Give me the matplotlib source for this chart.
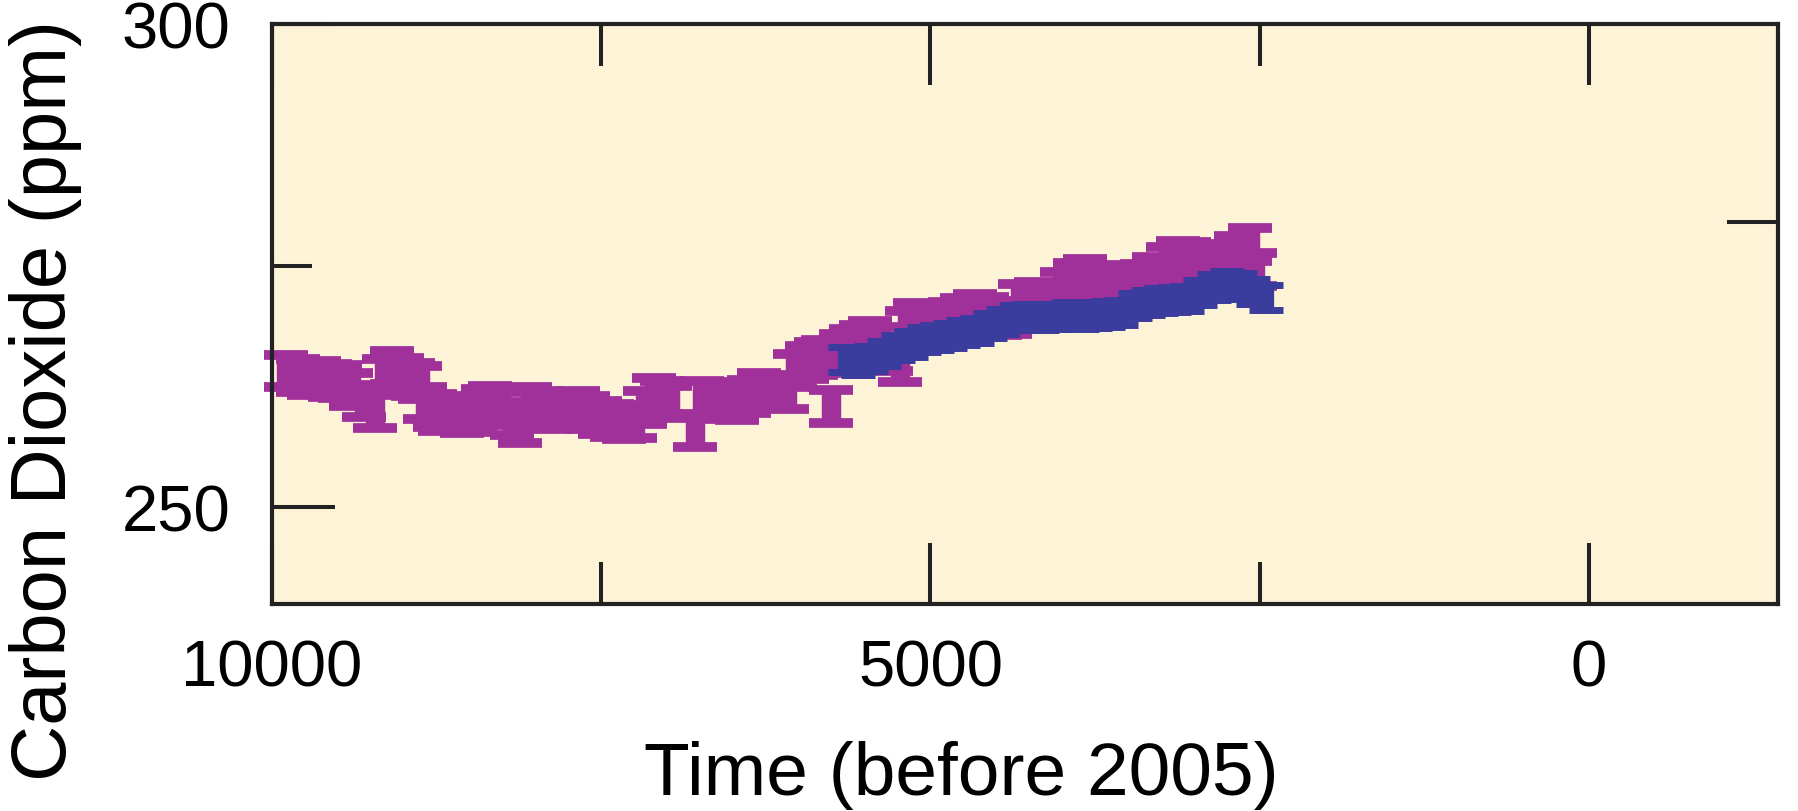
import numpy as np
import matplotlib
matplotlib.use("Agg")
import matplotlib.pyplot as plt

plt.rcParams['font.family'] = ['Liberation Sans', 'DejaVu Sans']

# ice core CO2, purple series (years before 2005, ppm)
purple_years = [9890, 9800, 9720, 9640, 9560, 9480, 9400, 9300, 9218, 9150,
                9089, 9010, 8930, 8876, 8838, 8760, 8724, 8640, 8560, 8459,
                8400, 8345, 8260, 8180, 8117, 8041, 7960, 7880, 7820, 7753,
                7680, 7600, 7510, 7420, 7330, 7244, 7170, 7100, 7040, 6980,
                6788, 6735, 6640, 6560, 6469, 6380, 6300, 6200, 6090, 6029,
                5940, 5870, 5816, 5755, 5680, 5600, 5530, 5460, 5380, 5300,
                5231, 5180, 5118, 5020, 4928, 4850, 4760, 4662, 4570, 4472,
                4400, 4320, 4200, 4093, 4000, 3900, 3827, 3713, 3620, 3520,
                3394, 3300, 3200, 3121, 3040, 2950, 2855, 2760, 2680, 2574,
                2536]
purple_ppm = [264.1, 263.6, 263.3, 263.4, 263.1, 263.0, 262.2, 261.0, 259.9, 263.6,
              264.5, 263.8, 263.2, 262.9, 260.8, 260.0, 259.6, 259.8, 259.4, 259.5,
              260.5, 260.9, 260.2, 259.2, 258.4, 260.7, 260.3, 259.8, 260.0, 260.2,
              260.3, 259.8, 259.3, 259.0, 258.8, 258.9, 260.3, 261.7, 261.4, 260.9,
              257.9, 261.4, 261.3, 260.8, 260.7, 261.5, 262.2, 262.0, 261.9, 264.2,
              265.0, 265.4, 265.6, 260.4, 266.2, 266.8, 267.2, 267.6, 267.0, 265.8,
              264.7, 268.6, 269.4, 269.2, 268.8, 269.5, 270.0, 270.4, 270.1, 269.5,
              269.6, 271.4, 271.6, 271.4, 272.6, 273.6, 274.0, 273.0, 273.2, 273.4,
              273.5, 274.2, 275.2, 275.9, 275.8, 275.3, 275.1, 275.5, 276.4, 277.2,
              274.6]

# blue series
blue_years = [5650, 5550, 5450, 5350, 5250, 5150, 5050, 4950, 4850, 4750,
              4650, 4550, 4450, 4350, 4250, 4150, 4050, 3950, 3850, 3750,
              3650, 3550, 3450, 3350, 3250, 3150, 3050, 2950, 2850, 2750,
              2650, 2550, 2450]
blue_ppm = [265.3, 265.0, 265.4, 265.9, 266.5, 266.9, 267.4, 267.6, 267.8, 268.1,
            268.3, 268.8, 269.2, 269.6, 269.7, 269.6, 269.7, 269.9, 269.8, 269.9,
            270.0, 270.2, 270.9, 271.2, 271.4, 271.5, 271.6, 272.2, 272.8, 273.1,
            272.9, 272.3, 271.7]

purple_err = 1.7
blue_err = 1.3

fig = plt.figure(figsize=(17.99, 8.12), dpi=100)
ax = fig.add_axes([0.1512, 0.2549, 0.8371, 0.7143])
ax.set_facecolor('#fdf4d7')

ax.errorbar(purple_years, purple_ppm, yerr=purple_err, fmt='none',
            ecolor='#a0309a', elinewidth=14, capsize=16, capthick=7, clip_on=False)
ax.errorbar(blue_years, blue_ppm, yerr=blue_err, fmt='none',
            ecolor='#3a3c9e', elinewidth=11, capsize=12, capthick=5, clip_on=False)

ax.set_xlim(10000, -1435)
ax.set_ylim(240, 300)

ax.set_xticks([10000, 5000, 0])
ax.set_xticklabels(['10000', '5000', '0'])
ax.set_xticks([7500, 2500], minor=True)
ax.set_yticks([250, 300])
ax.set_yticklabels(['250', '300'])
ax.set_yticks([275], minor=True)

ax.tick_params(axis='x', which='major', direction='in', top=True, bottom=True,
               length=44, width=2.9, labelsize=47, pad=25, color='#222222')
ax.tick_params(axis='x', which='minor', direction='in', top=True, bottom=True,
               length=30, width=2.9, color='#222222')
ax.tick_params(axis='y', which='major', direction='in', left=True, right=False,
               length=45, width=2.9, labelsize=47, pad=30, color='#222222')
ax.tick_params(axis='y', which='minor', direction='in', left=True, right=False,
               length=29, width=2.9, color='#222222')

for s in ax.spines.values():
    s.set_linewidth(3)
    s.set_color('#222222')

# right side tick
ax2 = ax.twinx()
ax2.set_ylim(240, 300)
ax2.set_yticks([279.5])
ax2.set_yticklabels([''])
ax2.tick_params(axis='y', direction='in', length=37, width=2.9, color='#222222')
for s in ax2.spines.values():
    s.set_visible(False)

ax.set_xlabel('Time (before 2005)', fontsize=54)
ax.xaxis.set_label_coords(0.4575, -0.235)
ax.set_ylabel('Carbon Dioxide (ppm)', fontsize=56)
ax.yaxis.set_label_coords(-0.126, 0.352)

fig.savefig('out.png', dpi=100)
